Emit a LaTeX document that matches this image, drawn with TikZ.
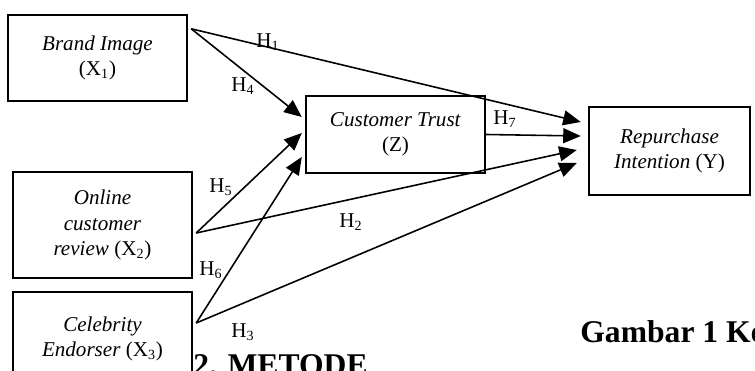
\documentclass[tikz,border=0pt]{standalone}
\usepackage{fontspec}
\setmainfont{Liberation Serif}
\usetikzlibrary{arrows.meta, calc}

\begin{document}
\begin{tikzpicture}[x=0.02cm, y=-0.02cm,
    every node/.style={align=center, font=\fontsize{12}{14.3}\selectfont},
    varbox/.style={draw, line width=1.4pt, inner sep=0pt},
    hlabel/.style={inner sep=0pt},
    link/.style={line width=0.9pt, -{Triangle[length=10pt, width=8.5pt]}},
    heading/.style={anchor=base west, inner sep=0pt, font=\fontsize{18}{20}\selectfont\bfseries}]
    \clip (0,0) rectangle (755,371);

    % variables
    \node[varbox, minimum width=3.58cm, minimum height=1.72cm] (bi) at (97.5,58)
        {\textit{Brand Image}\\(X\textsubscript{1})};
    \node[varbox, minimum width=3.58cm, minimum height=2.12cm] (ocr) at (102.5,225)
        {\textit{Online}\\\textit{customer}\\\textit{review} (X\textsubscript{2})};
    \node[varbox, minimum width=3.58cm, minimum height=1.86cm] (ce) at (102.5,338.5)
        {\textit{Celebrity}\\\textit{Endorser} (X\textsubscript{3})};
    \node[varbox, minimum width=3.58cm, minimum height=1.54cm] (ct) at (395.5,134.5)
        {\textit{Customer Trust}\\(Z)};
    \node[varbox, minimum width=3.22cm, minimum height=1.76cm] (ri) at (669.5,151)
        {\textit{Repurchase}\\\textit{Intention} (Y)};

    % where the paths leave and meet the boxes
    \coordinate (bi-out)  at ($(bi.north east)+(3,15)$);
    \coordinate (ocr-out) at ($(ocr.east)+(3,8)$);
    \coordinate (ce-out)  at ($(ce.east)+(3,-15.5)$);
    \coordinate (ct-in4)  at ($(ct.west)+(-3,-17.5)$);
    \coordinate (ct-in5)  at ($(ct.west)+(-3,-1.5)$);
    \coordinate (ct-in6)  at ($(ct.west)+(-3,22.5)$);
    \coordinate (ri-in1)  at ($(ri.west)+(-7,-29)$);
    \coordinate (ri-in7)  at ($(ri.west)+(-7,-15)$);
    \coordinate (ri-in2)  at ($(ri.west)+(-11,-1)$);
    \coordinate (ri-in3)  at ($(ri.west)+(-11,12)$);

    \draw[link] (bi-out)  -- (ri-in1);
    \draw[link] (bi-out)  -- (ct-in4);
    \draw[link] (ocr-out) -- (ct-in5);
    \draw[link] (ocr-out) -- (ri-in2);
    \draw[link] (ce-out)  -- (ct-in6);
    \draw[link] (ce-out)  -- (ri-in3);
    \draw[link] (ct.east) -- (ri-in7);

    % hypotheses
    \node[hlabel] (h1) at (268,42)  {H\textsubscript{1}};
    \node[hlabel] (h4) at (243,86)  {H\textsubscript{4}};
    \node[hlabel] (h7) at (505,119) {H\textsubscript{7}};
    \node[hlabel] (h5) at (221,187) {H\textsubscript{5}};
    \node[hlabel] (h2) at (351,222) {H\textsubscript{2}};
    \node[hlabel] (h6) at (211,270) {H\textsubscript{6}};
    \node[hlabel] (h3) at (243,332) {H\textsubscript{3}};

    \node[heading] (fig) at (580,343) {Gambar 1 Ke};
    \node[heading] (sec) at (193,376) {2. METODE};
  \end{tikzpicture}
\end{document}
